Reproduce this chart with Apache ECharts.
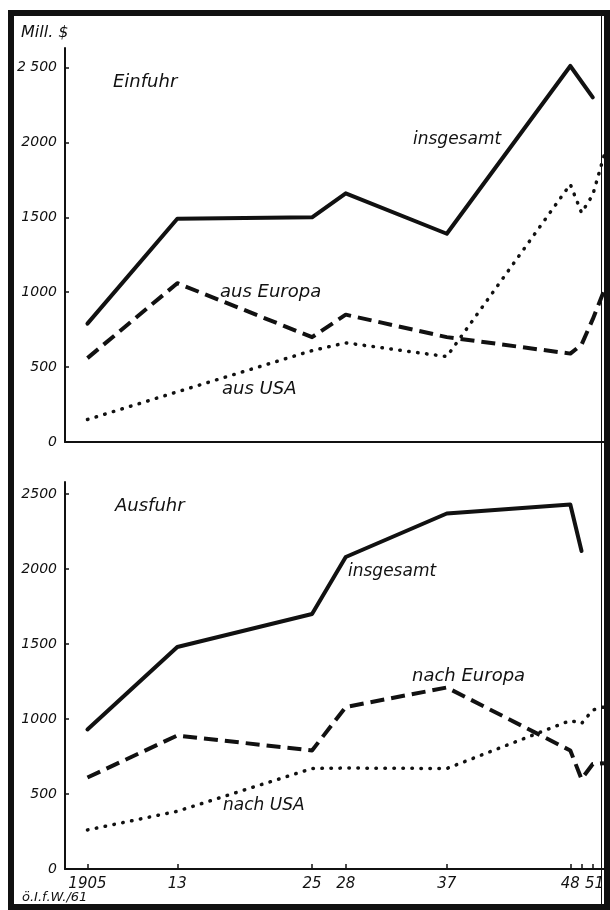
<!DOCTYPE html>
<html><head><meta charset="utf-8">
<script src="https://cdn.jsdelivr.net/npm/echarts@6/dist/echarts.min.js"></script>
<style>html,body{margin:0;padding:0;background:#fff}#c{width:610px;height:910px}</style>
</head><body><div id="c"></div>
<script>
// ---- data ----
const yTickValues = [0, 500, 1000, 1500, 2000, 2500];
const xTickYears = [1905, 1913, 1925, 1928, 1937, 1948, 1949, 1950];
const xLabelYears = [1905, 1913, 1925, 1928, 1937, 1948, 1951];

const einTotalYears = [1905, 1913, 1925, 1928, 1937, 1948, 1950];
const einTotal = [790, 1490, 1500, 1660, 1390, 2510, 2300];
const einPartYears = [1905, 1913, 1925, 1928, 1937, 1948, 1949, 1950, 1951];
const einEuropa = [560, 1060, 700, 850, 700, 590, 650, 820, 1010];
const einUSA = [150, 335, 610, 662, 570, 1720, 1530, 1650, 1910];

const ausTotalYears = [1905, 1913, 1925, 1928, 1937, 1948, 1949];
const ausTotal = [930, 1480, 1700, 2080, 2370, 2430, 2120];
const ausPartYears = [1905, 1913, 1925, 1928, 1937, 1948, 1949, 1950, 1951];
const ausEuropa = [610, 890, 790, 1080, 1210, 790, 600, 700, 705];
const ausUSA = [260, 385, 670, 673, 670, 990, 970, 1060, 1080];

// ---- helpers ----
const INK = '#111';
const FONT = 'DejaVu Sans';
const pairs = (xs, ys) => xs.map((x, i) => [x, ys[i]]);
const styles = {
  solid: { color: INK, width: 4, type: 'solid', join: 'round', cap: 'round' },
  dashed: { color: INK, width: 4, type: [14, 7], join: 'round' },
  dotted: { color: INK, width: 3.5, type: [0.5, 8.5], cap: 'round' }
};
function line(idx, data, st) {
  return { type: 'line', xAxisIndex: idx, yAxisIndex: idx, data, showSymbol: false, symbol: 'none',
    lineStyle: styles[st], itemStyle: { color: INK }, animation: false, silent: true };
}
function xAxis(idx, showLabels) {
  return {
    type: 'value', gridIndex: idx, min: 1903, max: 1951,
    splitLine: { show: false },
    axisLine: { show: true, lineStyle: { color: INK, width: 2 } },
    axisTick: showLabels ? { show: true, inside: true, length: 5, customValues: xTickYears, lineStyle: { color: INK, width: 1.5 } } : { show: false },
    axisLabel: showLabels ? {
      show: true, customValues: xLabelYears, margin: 8, alignMaxLabel: 'right',
      color: INK, fontFamily: FONT, fontStyle: 'italic', fontSize: 15,
      formatter: v => (v === 1905 ? '1905' : String(v % 100))
    } : { show: false }
  };
}
function yAxis(idx, max, fmt) {
  return {
    type: 'value', gridIndex: idx, min: 0, max: max,
    splitLine: { show: false },
    axisLine: { show: true, onZero: false, lineStyle: { color: INK, width: 2 } },
    axisTick: { show: true, inside: true, length: 4, customValues: yTickValues, lineStyle: { color: INK, width: 1.5 } },
    axisLabel: { show: true, customValues: yTickValues, margin: 8, color: INK, fontFamily: FONT, fontStyle: 'italic', fontSize: 14, formatter: fmt }
  };
}
function txt(x, y, s, size) {
  return { type: 'text', x, y, silent: true,
    style: { text: s, fill: INK, font: 'italic ' + size + 'px "' + FONT + '"', textVerticalAlign: 'middle', textAlign: 'left' } };
}

const chart = echarts.init(document.getElementById('c'), null, { renderer: 'canvas' });
chart.setOption({
  backgroundColor: '#fff',
  animation: false,
  grid: [
    { left: 65, right: 6, top: 48, height: 394 },
    { left: 65, right: 6, top: 482, height: 387 }
  ],
  xAxis: [xAxis(0, false), xAxis(1, true)],
  yAxis: [
    yAxis(0, 2630, v => (v === 2500 ? '2 500' : String(v))),
    yAxis(1, 2580, v => String(v))
  ],
  series: [
    line(0, pairs(einTotalYears, einTotal), 'solid'),
    line(0, pairs(einPartYears, einEuropa), 'dashed'),
    line(0, pairs(einPartYears, einUSA), 'dotted'),
    line(1, pairs(ausTotalYears, ausTotal), 'solid'),
    line(1, pairs(ausPartYears, ausEuropa), 'dashed'),
    line(1, pairs(ausPartYears, ausUSA), 'dotted')
  ],
  graphic: [
    txt(21, 33, 'Mill. $', 16),
    txt(113, 82, 'Einfuhr', 18),
    txt(413, 140, 'insgesamt', 17),
    txt(220, 292, 'aus Europa', 18),
    txt(222, 389, 'aus USA', 18),
    txt(115, 506, 'Ausfuhr', 18),
    txt(348, 572, 'insgesamt', 17),
    txt(412, 676, 'nach Europa', 18),
    txt(223, 806, 'nach USA', 17),
    txt(22, 898, 'ö.I.f.W./61', 13),
    { type: 'line', silent: true, shape: { x1: 601.5, y1: 13, x2: 601.5, y2: 907 }, style: { stroke: INK, lineWidth: 1 } },
    { type: 'rect', silent: true, shape: { x: 11, y: 13, width: 596, height: 894 }, style: { fill: 'none', stroke: INK, lineWidth: 6 } }
  ]
});
</script>
</body></html>
